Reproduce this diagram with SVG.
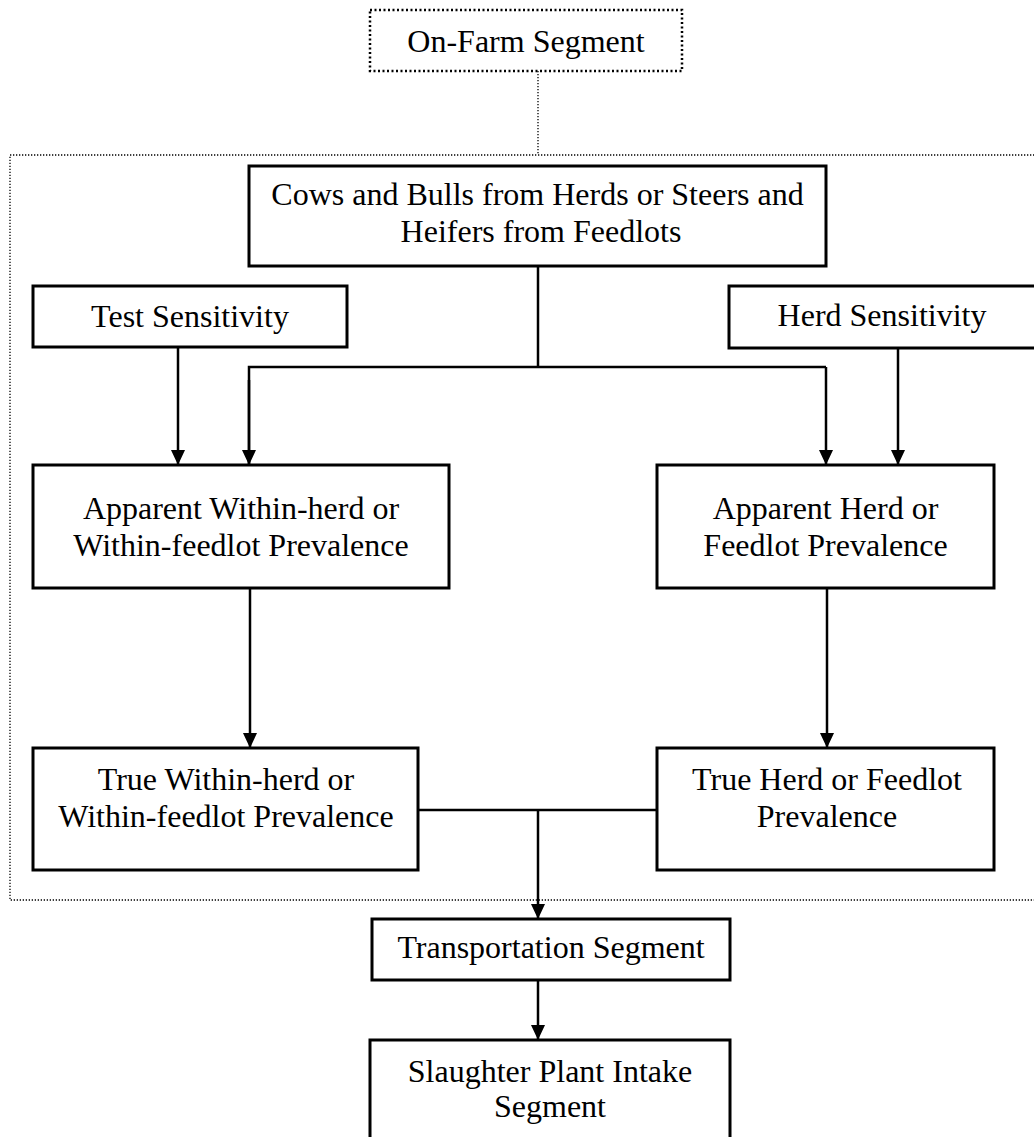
<svg xmlns="http://www.w3.org/2000/svg" width="1034" height="1137" viewBox="0 0 1034 1137">
  <style>
    .box { fill: #fff; stroke: #000; stroke-width: 3; }
    .seg { fill: none; stroke: #000; stroke-width: 2.5; stroke-dasharray: 2 2.5; }
    .frame { fill: none; stroke: #000; stroke-width: 1.3; stroke-dasharray: 1.3 1.7; }
    .link { fill: none; stroke: #000; stroke-width: 2.5; }
    .arrow { fill: none; stroke: #000; stroke-width: 2.5; marker-end: url(#head); }
    text { font-family: "Liberation Serif", "Times New Roman", serif; font-size: 32px; fill: #000; text-anchor: middle; }
  </style>
  <defs>
    <marker id="head" viewBox="0 0 15 14" refX="15" refY="7" markerWidth="15" markerHeight="14" markerUnits="userSpaceOnUse" orient="auto">
      <path d="M0,0 L15,7 L0,14 Z" fill="#000"/>
    </marker>
  </defs>

  <rect width="1034" height="1137" fill="#fff"/>

  <!-- on-farm segment boundary -->
  <rect class="frame" x="10" y="155" width="1040" height="745"/>

  <!-- connectors -->
  <g id="connectors">
    <line class="frame" x1="538" y1="71" x2="538" y2="155"/>
    <line class="link" x1="538" y1="266" x2="538" y2="367"/>
    <polyline class="link" points="249,465 249,367 826,367"/>
    <line class="arrow" x1="249" y1="380" x2="249" y2="465"/>
    <line class="arrow" x1="826" y1="367" x2="826" y2="465"/>
    <line class="arrow" x1="178" y1="347" x2="178" y2="465"/>
    <line class="arrow" x1="898" y1="348" x2="898" y2="465"/>
    <line class="arrow" x1="250" y1="588" x2="250" y2="748"/>
    <line class="arrow" x1="827" y1="588" x2="827" y2="748"/>
    <line class="link" x1="418" y1="810" x2="657" y2="810"/>
    <line class="arrow" x1="538" y1="810" x2="538" y2="919"/>
    <line class="arrow" x1="538" y1="980" x2="538" y2="1040"/>
  </g>

  <g id="on-farm">
    <rect class="seg" x="370" y="10" width="312" height="61"/>
    <text x="526" y="52">On-Farm Segment</text>
  </g>

  <g id="cattle-source">
    <rect class="box" x="249" y="166" width="577" height="100"/>
    <text x="537.5" y="205">Cows and Bulls from Herds or Steers and</text>
    <text x="541" y="242">Heifers from Feedlots</text>
  </g>

  <g id="test-sensitivity">
    <rect class="box" x="33" y="286" width="314" height="61"/>
    <text x="190" y="327">Test Sensitivity</text>
  </g>

  <g id="herd-sensitivity">
    <rect class="box" x="729" y="286" width="310" height="62"/>
    <text x="882" y="326">Herd Sensitivity</text>
  </g>

  <g id="apparent-within">
    <rect class="box" x="33" y="465" width="416" height="123"/>
    <text x="241" y="519">Apparent Within-herd or</text>
    <text x="241" y="556">Within-feedlot Prevalence</text>
  </g>

  <g id="apparent-herd">
    <rect class="box" x="657" y="465" width="337" height="123"/>
    <text x="825.5" y="519">Apparent Herd or</text>
    <text x="825.5" y="556">Feedlot Prevalence</text>
  </g>

  <g id="true-within">
    <rect class="box" x="33" y="748" width="385" height="122"/>
    <text x="226" y="790">True Within-herd or</text>
    <text x="226" y="827">Within-feedlot Prevalence</text>
  </g>

  <g id="true-herd">
    <rect class="box" x="657" y="748" width="337" height="122"/>
    <text x="827" y="790">True Herd or Feedlot</text>
    <text x="827" y="827">Prevalence</text>
  </g>

  <g id="transportation">
    <rect class="box" x="372" y="919" width="358" height="61"/>
    <text x="551" y="958">Transportation Segment</text>
  </g>

  <g id="slaughter-intake">
    <rect class="box" x="370" y="1040" width="360" height="110"/>
    <text x="550" y="1082">Slaughter Plant Intake</text>
    <text x="550" y="1117">Segment</text>
  </g>
</svg>
